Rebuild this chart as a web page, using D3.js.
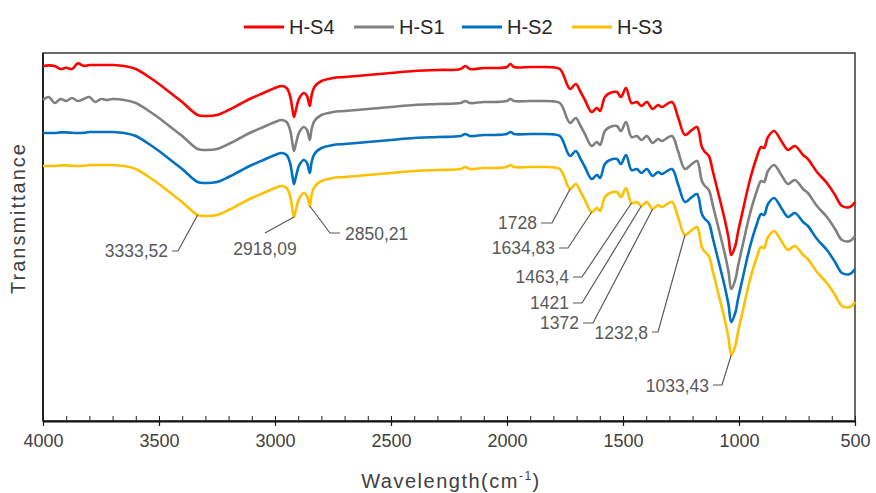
<!DOCTYPE html>
<html>
<head>
<meta charset="utf-8">
<script src="https://cdn.jsdelivr.net/npm/d3@7"></script>
<style>
  body { margin: 0; background: #fff; }
  svg { display: block; font-family: "Liberation Sans", Arial, sans-serif; }
</style>
</head>
<body>
<svg id="chart" width="876" height="493"></svg>
<script>
// FTIR spectra, transmittance in arbitrary units (curves are stacked, no y scale shown)
const wavenumbers = [
  4000, 3975, 3950, 3925, 3900, 3875, 3850, 3825, 3800, 3775,
  3750, 3725, 3700, 3650, 3600, 3550, 3500, 3450, 3400, 3333.52,
  3300, 3250, 3200, 3150, 3100, 3050, 3000, 2970, 2950, 2935,
  2925, 2918.09, 2910, 2895, 2875, 2862, 2850.21, 2842, 2830, 2800,
  2750, 2700, 2600, 2500, 2400, 2300, 2200, 2180, 2160, 2100,
  2050, 2000, 1985, 1970, 1900, 1850, 1800, 1772, 1755, 1740,
  1728, 1703, 1685, 1664, 1634.83, 1612, 1599, 1578, 1556, 1526,
  1509, 1487, 1463.4, 1440, 1421, 1397, 1372, 1349, 1332, 1289,
  1263, 1232.8, 1203, 1181, 1160, 1147, 1130, 1112, 1082, 1061,
  1045, 1033.43, 1015, 1005, 983, 953, 923, 905, 892, 875,
  849, 815, 789, 759, 724, 703, 664, 621, 586, 556,
  522, 500
];

const hs4 = [
  88.75, 88.9, 88.75, 88, 88.3, 88, 89.4, 88.8, 89, 89,
  89, 89, 89, 88.75, 88, 86.25, 84.25, 82, 79.75, 76.5,
  76.25, 76.5, 77.75, 79.25, 80.75, 82, 83.25, 83.75, 83.25, 81.25,
  78, 76, 77.75, 80.75, 82, 81.25, 78.75, 81.5, 83.5, 85,
  85.75, 86, 86.5, 87, 87.5, 87.75, 88, 88.75, 88, 88.25,
  88.25, 88.5, 89.25, 88.5, 88.5, 88.5, 88.4, 88, 86.25, 84,
  83, 84.25, 82.5, 80.25, 77.25, 78.25, 77.5, 81, 82, 82.25,
  81, 83.25, 79.5, 79.75, 78.75, 79.75, 78, 79, 78.5, 79.75,
  76, 71.5, 72.75, 73.5, 68.5, 67.25, 66.25, 62.25, 55.25, 50.25,
  45.75, 41.5, 44, 47, 52.75, 60.25, 66, 68.5, 68.25, 71,
  72.5, 69.75, 67.75, 68.75, 66.5, 65.5, 62.25, 59.5, 56.5, 53.75,
  53.5, 54.75
];

const hs1 = [
  80.25, 81, 79.5, 80.5, 80, 80.75, 80, 80.5, 81, 79.75,
  80.5, 80.25, 80.5, 80.25, 79.5, 77.75, 75.75, 73.5, 71.25, 68,
  67.75, 68, 69.25, 70.75, 72.25, 73.5, 74.75, 75.25, 74.75, 72.75,
  69.5, 67.5, 69.25, 72.25, 73.5, 72.75, 70.25, 73, 75, 76.5,
  77.25, 77.5, 78, 78.5, 79, 79.25, 79.5, 80, 79.5, 79.75,
  79.75, 80, 80.5, 80, 80, 80, 79.9, 79.5, 77.75, 75.5,
  74.5, 75.75, 74, 71.75, 68.75, 69.75, 69, 72.5, 73.5, 73.75,
  72.5, 74.75, 71, 71.25, 70.25, 71.25, 69.5, 70.5, 70, 71.25,
  67.5, 63, 64.25, 65, 60, 58.75, 57.75, 53.75, 46.75, 41.75,
  37.25, 33, 35.5, 38.5, 44.25, 51.75, 57.5, 60, 59.75, 62.5,
  64, 61.25, 59.25, 60.25, 58, 57, 53.75, 51, 48, 45.25,
  45, 46.25
];

const hs2 = [
  72, 72, 72, 72.15, 72.15, 72.05, 72, 72.05, 72.25, 72.25,
  72.25, 72.25, 72.25, 72, 71.25, 69.5, 67.5, 65.25, 63, 59.75,
  59.5, 59.75, 61, 62.5, 64, 65.25, 66.5, 67, 66.5, 64.5,
  61.25, 59.25, 61, 64, 65.25, 64.5, 62, 64.75, 66.75, 68.25,
  69, 69.25, 69.75, 70.25, 70.75, 71, 71.25, 71.75, 71.25, 71.5,
  71.5, 71.75, 72.25, 71.75, 71.75, 71.75, 71.65, 71.25, 69.5, 67.25,
  66.25, 67.5, 65.75, 63.5, 60.5, 61.5, 60.75, 64.25, 65.25, 65.5,
  64.25, 66.5, 62.75, 63, 62, 63, 61.25, 62.25, 61.75, 63,
  59.25, 54.75, 56, 56.75, 51.75, 50.5, 49.5, 45.5, 38.5, 33.5,
  29, 24.75, 27.25, 30.25, 36, 43.5, 49.25, 51.75, 51.5, 54.25,
  55.75, 53, 51, 52, 49.75, 48.75, 45.5, 42.75, 39.75, 37,
  36.75, 38
];

const hs3 = [
  63.75, 63.75, 63.75, 63.9, 63.9, 63.8, 63.75, 63.8, 64, 64,
  64, 64, 64, 63.75, 63, 61.25, 59.25, 57, 54.75, 51.5,
  51.25, 51.5, 52.75, 54.25, 55.75, 57, 58.25, 58.75, 58.25, 56.25,
  53, 51, 52.75, 55.75, 57, 56.25, 53.75, 56.5, 58.5, 60,
  60.75, 61, 61.5, 62, 62.5, 62.75, 63, 63.5, 63, 63.25,
  63.25, 63.5, 64, 63.5, 63.5, 63.5, 63.4, 63, 61.25, 59,
  58, 59.25, 57.5, 55.25, 52.25, 53.25, 52.5, 56, 57, 57.25,
  56, 58.25, 54.5, 54.75, 53.75, 54.75, 53, 54, 53.5, 54.75,
  51, 46.5, 47.75, 48.5, 43.5, 42.25, 41.25, 37.25, 30.25, 25.25,
  20.75, 16.5, 19, 22, 27.75, 35.25, 41, 43.5, 43.25, 46,
  47.5, 44.75, 42.75, 43.75, 41.5, 40.5, 37.25, 34.5, 31.5, 28.75,
  28.5, 29.75
];

const seriesNames = ["H-S4", "H-S1", "H-S2", "H-S3"];
const seriesValues = [hs4, hs1, hs2, hs3];
const xTickValues = [4000, 3500, 3000, 2500, 2000, 1500, 1000, 500];

// Assigned bands (marked on the H-S3 spectrum)
const bandPositions = [3333.52, 2918.09, 2850.21, 1728, 1634.83, 1463.4, 1421, 1372, 1232.8, 1033.43];
const bandLabels = ["3333,52", "2918,09", "2850,21", "1728", "1634,83", "1463,4", "1421", "1372", "1232,8", "1033,43"];

// ---- drawing ----
const colors = ["#FF0000", "#808080", "#0070C0", "#FFC000"];
const svg = d3.select("#chart");
const plot = { left: 43, right: 855, top: 53, bottom: 421 };

const x = d3.scaleLinear().domain([4000, 500]).range([plot.left, plot.right]);
const y = d3.scaleLinear().domain([0, 92]).range([plot.bottom, plot.top]);

// plot frame
svg.append("rect")
  .attr("x", plot.left).attr("y", plot.top)
  .attr("width", plot.right - plot.left).attr("height", plot.bottom - plot.top)
  .attr("fill", "none").attr("stroke", "#3a3a3a").attr("stroke-width", 1.5);

// minor ticks every 100 cm-1, pointing into the plot
const minorAxis = svg.append("g")
  .attr("transform", `translate(0,${plot.bottom})`)
  .call(d3.axisBottom(x).tickValues(d3.range(500, 4001, 100)).tickSize(-5).tickFormat(""));
minorAxis.select(".domain").remove();
minorAxis.selectAll("line").attr("stroke", "#222").attr("stroke-width", 1);

// major ticks and labels
const majorAxis = svg.append("g")
  .attr("transform", `translate(0,${plot.bottom})`)
  .call(d3.axisBottom(x).tickValues(xTickValues).tickSizeInner(5).tickSizeOuter(0).tickPadding(8).tickFormat(d3.format("d")));
majorAxis.select(".domain").attr("stroke", "#111").attr("stroke-width", 2);
majorAxis.selectAll("line").attr("stroke", "#111").attr("stroke-width", 1.2);
majorAxis.selectAll("text")
  .attr("font-size", 18).attr("fill", "#404040")
  .style("font-family", "'Liberation Sans', Arial, sans-serif");

// left axis line
svg.append("line")
  .attr("x1", plot.left).attr("x2", plot.left)
  .attr("y1", plot.top).attr("y2", plot.bottom)
  .attr("stroke", "#222").attr("stroke-width", 2);

// spectra
const line = d3.line()
  .x((d, i) => x(wavenumbers[i]))
  .y(d => y(d))
  .curve(d3.curveCatmullRom.alpha(0.5));

svg.append("g").selectAll("path")
  .data(seriesValues)
  .join("path")
  .attr("d", d => line(d))
  .attr("fill", "none")
  .attr("stroke", (d, i) => colors[i])
  .attr("stroke-width", 2.6)
  .attr("stroke-linejoin", "round");

// band annotations: leader line from the H-S3 curve to its label
const labelLayout = [
  { elbow: [178, 251], end: [172, 251], text: [168, 251], anchor: "end" },
  { elbow: [265, 233], end: null,       text: [265, 249], anchor: "middle" },
  { elbow: [330, 233], end: [340, 233], text: [345, 234], anchor: "start" },
  { elbow: [552, 223], end: [541, 223], text: [537, 223], anchor: "end" },
  { elbow: [568, 248], end: [559, 248], text: [555, 248], anchor: "end" },
  { elbow: [582, 277], end: [573, 277], text: [569, 277], anchor: "end" },
  { elbow: [582, 303], end: [573, 303], text: [569, 303], anchor: "end" },
  { elbow: [593, 323], end: [583, 323], text: [579, 323], anchor: "end" },
  { elbow: [658, 332], end: [652, 332], text: [648, 333], anchor: "end" },
  { elbow: [722, 385], end: [713, 385], text: [709, 386], anchor: "end" }
];

const ann = svg.append("g");
bandPositions.forEach((wn, k) => {
  const idx = wavenumbers.indexOf(wn);
  const px = x(wn), py = y(hs3[idx]);
  const L = labelLayout[k];
  const pts = [[px, py], L.elbow];
  if (L.end) pts.push(L.end);
  ann.append("path")
    .attr("d", d3.line()(pts))
    .attr("fill", "none").attr("stroke", "#595959").attr("stroke-width", 1.2);
  ann.append("text")
    .attr("x", L.text[0]).attr("y", L.text[1])
    .attr("text-anchor", L.anchor)
    .attr("dominant-baseline", "central")
    .attr("font-size", 17.5).attr("fill", "#595959")
    .text(bandLabels[k]);
});

// axis titles
svg.append("text")
  .attr("transform", "translate(25,218) rotate(-90)")
  .attr("text-anchor", "middle")
  .attr("font-size", 20).attr("fill", "#404040")
  .attr("letter-spacing", 2)
  .text("Transmittance");

const xt = svg.append("text")
  .attr("x", 451).attr("y", 488)
  .attr("text-anchor", "middle")
  .attr("font-size", 20).attr("fill", "#404040")
  .attr("letter-spacing", 1.5);
xt.append("tspan").text("Wavelength(cm");
xt.append("tspan").attr("font-size", 12).attr("dy", -8).text("-1");
xt.append("tspan").attr("dy", 8).text(")");

// legend
const legendX = [244, 354, 462, 572];
const legend = svg.append("g");
seriesNames.forEach((name, i) => {
  const g = legend.append("g").attr("transform", `translate(${legendX[i]},27)`);
  g.append("line").attr("x1", 0).attr("x2", 40).attr("y1", 0).attr("y2", 0)
    .attr("stroke", colors[i]).attr("stroke-width", 3);
  g.append("text").attr("x", 45).attr("y", 0)
    .attr("dominant-baseline", "central")
    .attr("font-size", 20).attr("fill", "#262626")
    .text(name);
});
</script>
</body>
</html>
